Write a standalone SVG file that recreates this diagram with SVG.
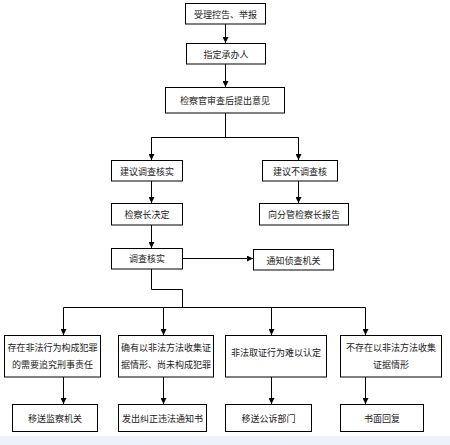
<svg xmlns="http://www.w3.org/2000/svg" width="450" height="445" viewBox="0 0 450 445">
<style>
.box{fill:#fff;stroke:#000;stroke-width:1}
.t{font-family:"Noto Sans CJK SC","Noto Sans",sans-serif;font-size:9px;fill:#222;text-anchor:middle;dominant-baseline:central}
.c{fill:none;stroke:#000;stroke-width:1}
</style>
<defs>
<marker id="ah" markerUnits="userSpaceOnUse" markerWidth="6" markerHeight="6" viewBox="0 0 6 6" refX="6" refY="3" orient="auto">
<path d="M0,0 L6,3 L0,6 Z" fill="#000"/>
</marker>
</defs>
<rect x="0" y="0" width="450" height="445" fill="#fff"/>
<rect x="0" y="436" width="450" height="9" fill="#eef1f6"/>
<g id="connectors">
<line class="c" x1="225.5" y1="24" x2="225.5" y2="43" marker-end="url(#ah)"/>
<line class="c" x1="225.5" y1="64" x2="225.5" y2="87" marker-end="url(#ah)"/>
<polyline class="c" points="225.5,113 225.5,137.5"/>
<polyline class="c" points="151.5,160 151.5,137.5 298.5,137.5 298.5,160"/>
<line class="c" x1="151.5" y1="137.5" x2="151.5" y2="160" marker-end="url(#ah)"/>
<line class="c" x1="298.5" y1="137.5" x2="298.5" y2="160" marker-end="url(#ah)"/>
<line class="c" x1="151.5" y1="181" x2="151.5" y2="203" marker-end="url(#ah)"/>
<line class="c" x1="298.5" y1="181" x2="298.5" y2="203" marker-end="url(#ah)"/>
<line class="c" x1="151.5" y1="225" x2="151.5" y2="248" marker-end="url(#ah)"/>
<line class="c" x1="182" y1="258.5" x2="253" y2="258.5" marker-end="url(#ah)"/>
<polyline class="c" points="151.5,269 151.5,289.5 182.5,289.5 182.5,307.5"/>
<line class="c" x1="63.5" y1="307.5" x2="365.5" y2="307.5"/>
<line class="c" x1="63.5" y1="307.5" x2="63.5" y2="335" marker-end="url(#ah)"/>
<line class="c" x1="163.5" y1="307.5" x2="163.5" y2="335" marker-end="url(#ah)"/>
<line class="c" x1="271.5" y1="307.5" x2="271.5" y2="335" marker-end="url(#ah)"/>
<line class="c" x1="365.5" y1="307.5" x2="365.5" y2="335" marker-end="url(#ah)"/>
<line class="c" x1="63.5" y1="377" x2="63.5" y2="404" marker-end="url(#ah)"/>
<line class="c" x1="163.5" y1="377" x2="163.5" y2="404" marker-end="url(#ah)"/>
<line class="c" x1="271.5" y1="377" x2="271.5" y2="404" marker-end="url(#ah)"/>
<line class="c" x1="365.5" y1="377" x2="365.5" y2="404" marker-end="url(#ah)"/>
</g>
<g id="n1"><rect class="box" x="185.5" y="3.5" width="80" height="20.5"/><text class="t" x="225.5" y="14">受理控告、举报</text></g>
<g id="n2"><rect class="box" x="186.5" y="43.5" width="79" height="20.5"/><text class="t" x="226" y="54">指定承办人</text></g>
<g id="n3"><rect class="box" x="165.5" y="87.5" width="119" height="25.5"/><text class="t" x="225" y="100">检察官审查后提出意见</text></g>
<g id="n4"><rect class="box" x="111.5" y="160.5" width="71" height="20.5"/><text class="t" x="147" y="171">建议调查核实</text></g>
<g id="n5"><rect class="box" x="262.5" y="160.5" width="75" height="20.5"/><text class="t" x="300" y="171">建议不调查核</text></g>
<g id="n6"><rect class="box" x="111.5" y="203.5" width="71" height="21.5"/><text class="t" x="147" y="214">检察长决定</text></g>
<g id="n7"><rect class="box" x="259.5" y="203.5" width="89" height="21.5"/><text class="t" x="304" y="214">向分管检察长报告</text></g>
<g id="n8"><rect class="box" x="111.5" y="248.5" width="71" height="20.5"/><text class="t" x="147" y="258.5">调查核实</text></g>
<g id="n9"><rect class="box" x="253.5" y="249.5" width="80" height="20.5"/><text class="t" x="293.5" y="260">通知侦查机关</text></g>
<g id="n10"><rect class="box" x="4.5" y="335.5" width="96" height="41.5"/><text class="t" x="52.5" y="347">存在非法行为构成犯罪</text><text class="t" x="52.5" y="364">的需要追究刑事责任</text></g>
<g id="n11"><rect class="box" x="118.5" y="335.5" width="95" height="41.5"/><text class="t" x="166" y="347">确有以非法方法收集证</text><text class="t" x="166" y="364">据情形、尚未构成犯罪</text></g>
<g id="n12"><rect class="box" x="225.5" y="335.5" width="101" height="41.5"/><text class="t" x="276" y="352">非法取证行为难以认定</text></g>
<g id="n13"><rect class="box" x="340.5" y="335.5" width="101" height="41.5"/><text class="t" x="391" y="347">不存在以非法方法收集</text><text class="t" x="391" y="364">证据情形</text></g>
<g id="n14"><rect class="box" x="12.5" y="404.5" width="85" height="27"/><text class="t" x="55" y="418">移送监察机关</text></g>
<g id="n15"><rect class="box" x="118.5" y="404.5" width="88" height="27"/><text class="t" x="162.5" y="418">发出纠正违法通知书</text></g>
<g id="n16"><rect class="box" x="225.5" y="404.5" width="86" height="27"/><text class="t" x="268.5" y="418">移送公诉部门</text></g>
<g id="n17"><rect class="box" x="340.5" y="404.5" width="83" height="27"/><text class="t" x="382" y="418">书面回复</text></g>
</svg>
